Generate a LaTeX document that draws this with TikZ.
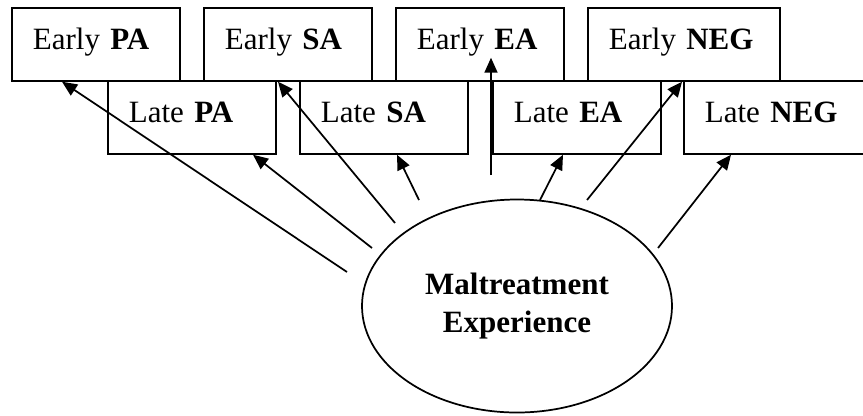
\documentclass[tikz,border=0pt]{standalone}
\usepackage{fontspec}
\setmainfont{Liberation Serif}
\usetikzlibrary{arrows.meta,shapes.geometric}

\begin{document}
\begin{tikzpicture}[x=0.75pt, y=-0.75pt, >={Triangle[length=11.25pt, width=9.75pt]},
    every node/.style={font=\fontsize{23.25}{28.5}\selectfont},
    box/.style={draw, line width=1.3pt, anchor=north west, inner xsep=15.75pt, inner ysep=0pt,
        text width=94.5pt, align=left, text height=31.5pt, text depth=23.25pt},
    widebox/.style={box, text width=112.5pt},
    arr/.style={->, line width=1.3pt}]
        \useasboundingbox (0, 0) rectangle (863, 415);

        % early measures (top row)
        \node[box] (epa) at (11, 7) {Early \textbf{PA}};
        \node[box] (esa) at (203, 7) {Early \textbf{SA}};
        \node[box] (eea) at (395, 7) {Early \textbf{EA}};
        \node[widebox] (eneg) at (587, 7) {Early \textbf{NEG}};

        % late measures (second row)
        \node[box] (lpa) at (107, 80) {Late \textbf{PA}};
        \node[box] (lsa) at (299, 80) {Late \textbf{SA}};
        \node[box] (lea) at (492, 80) {Late \textbf{EA}};
        \node[widebox] (lneg) at (683, 80) {Late \textbf{NEG}};

        % latent factor
        \node[draw, ellipse, line width=1.3pt, minimum width=232.5pt, minimum height=159.75pt,
            inner sep=0pt, align=center, font=\fontsize{23.25}{28.5}\selectfont\bfseries]
            (mal) at (517, 306) {Maltreatment\\Experience};

        % loose ends of the paths, just off the ellipse
        \coordinate (fromepa) at (347, 272);
        \coordinate (fromlpa) at (372, 248);
        \coordinate (fromesa) at (395, 223);
        \coordinate (fromlsa) at (419, 200);
        \coordinate (fromeea) at (491, 175);
        \coordinate (fromlea) at (540, 200);
        \coordinate (fromeneg) at (587, 200);
        \coordinate (fromlneg) at (658, 248);

        % loadings
        \draw[arr] (fromepa) -- ([shift={(51, 0)}]epa.south west);
        \draw[arr] (fromlpa) -- ([shift={(146, 0)}]lpa.south west);
        \draw[arr] (fromesa) -- ([shift={(75, 0)}]esa.south west);
        \draw[arr] (fromlsa) -- ([shift={(98, 0)}]lsa.south west);
        \draw[arr] (fromeea) -- ([shift={(96, -24)}]eea.south west);
        \draw[arr] (fromlea) -- ([shift={(71, 0)}]lea.south west);
        \draw[arr] (fromeneg) -- ([shift={(95, 0)}]eneg.south west);
        \draw[arr] (fromlneg) -- ([shift={(48, 0)}]lneg.south west);
    \end{tikzpicture}
\end{document}
